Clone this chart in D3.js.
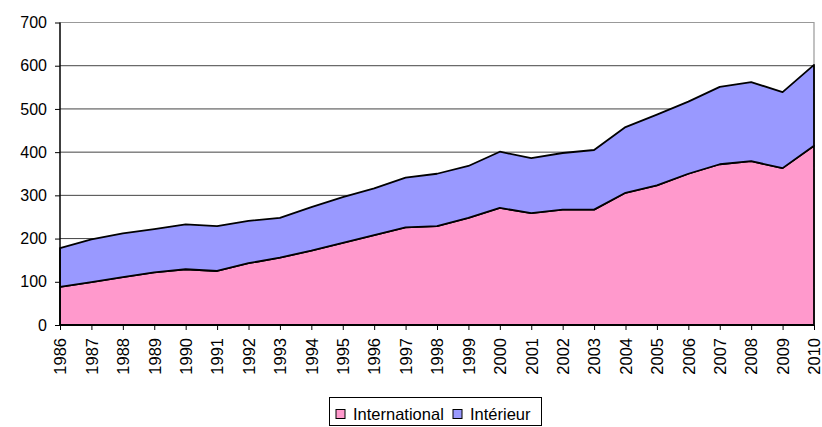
<!DOCTYPE html>
<html>
<head>
<meta charset="utf-8">
<script src="https://cdn.jsdelivr.net/npm/d3@7"></script>
<style>
body { margin: 0; background: #fff; }
text { font-family: Arial, "Liberation Sans", sans-serif; }
</style>
</head>
<body>
<div id="chart"></div>
<script>
var width = 822,
    height = 427;

var years = [1986,1987,1988,1989,1990,1991,1992,1993,1994,1995,1996,1997,1998,1999,2000,2001,2002,2003,2004,2005,2006,2007,2008,2009,2010];
var international = [88,99,111,122,129,125,143,156,172,190,208,226,229,248,271,259,267,267,306,323,350,372,379,363,415];
var interieur = [90,99,101,100,104,104,98,92,101,106,108,115,121,120,130,127,131,138,152,164,167,179,183,176,187];
var yTicks = [0,100,200,300,400,500,600,700];
var seriesNames = ["International", "Intérieur"];
var colors = ["#ff99cc", "#9999ff"];

var margin = {left: 60, right: 8, top: 22.5, bottom: 102};

var svg = d3.select("#chart")
            .append("svg")
            .attr("width", width)
            .attr("height", height);

var x = d3.scaleLinear()
          .domain([years[0], years[years.length - 1]])
          .range([margin.left, width - margin.right]);
var y = d3.scaleLinear()
          .domain([0, 700])
          .range([height - margin.bottom, margin.top]);

var rows = years.map(function(yr, i){
    return {year: yr, International: international[i], "Intérieur": interieur[i]};
});
var stacked = d3.stack().keys(seriesNames)(rows);

// gridlines
svg.selectAll(".grid")
   .data(yTicks.filter(function(d){ return d > 0 && d < 700; }))
   .enter().append("line")
   .attr("x1", margin.left).attr("x2", width - margin.right)
   .attr("y1", function(d){ return y(d); })
   .attr("y2", function(d){ return y(d); })
   .attr("stroke", "#444")
   .attr("stroke-width", 1);

// plot border (grey top + right)
svg.append("path")
   .attr("d", "M" + margin.left + "," + y(700) + "H" + (width - margin.right) + "V" + y(0))
   .attr("fill", "none")
   .attr("stroke", "#999")
   .attr("stroke-width", 1.2);

var area = d3.area()
    .x(function(d){ return x(d.data.year); })
    .y0(function(d){ return y(d[0]); })
    .y1(function(d){ return y(d[1]); });

svg.selectAll(".layer")
   .data(stacked)
   .enter().append("path")
   .attr("class", "layer")
   .attr("d", area)
   .attr("fill", function(d, i){ return colors[i]; })
   .attr("stroke", "#000")
   .attr("stroke-width", 1.8)
   .attr("stroke-linejoin", "round");

// y axis
var yAxis = svg.append("g")
   .attr("transform", "translate(" + margin.left + ",0)")
   .call(d3.axisLeft(y).tickValues(yTicks).tickSize(5).tickPadding(8));
yAxis.selectAll("text").attr("font-size", 16).attr("fill", "#000").attr("font-family", "Arial, 'Liberation Sans', sans-serif");
yAxis.selectAll("line,path").attr("stroke", "#000");
yAxis.select(".domain").attr("stroke-width", 1.5).attr("d", "M0," + y(0) + "V" + y(700));

// x axis
var xAxis = svg.append("g")
   .attr("transform", "translate(0," + y(0) + ")")
   .call(d3.axisBottom(x).tickValues(years).tickFormat(d3.format("d")).tickSize(5));
xAxis.selectAll("line,path").attr("stroke", "#000");
xAxis.select(".domain").attr("stroke-width", 1.5).attr("d", "M" + margin.left + ",0H" + (width - margin.right));
xAxis.selectAll("text")
   .attr("font-size", 16.5)
   .attr("fill", "#000")
   .attr("font-family", "Arial, 'Liberation Sans', sans-serif")
   .attr("text-anchor", "end")
   .attr("transform", "rotate(-90)")
   .attr("x", -13)
   .attr("y", 0)
   .attr("dy", "0.35em");

// legend
var legend = svg.append("g");
legend.append("rect")
   .attr("x", 329.5).attr("y", 397.5)
   .attr("width", 212).attr("height", 28)
   .attr("fill", "#fff").attr("stroke", "#000");
var legendX = [336, 453];
seriesNames.forEach(function(name, i){
    legend.append("rect")
       .attr("x", legendX[i]).attr("y", 409.5)
       .attr("width", 9).attr("height", 9)
       .attr("fill", colors[i]).attr("stroke", "#000");
    legend.append("text")
       .attr("x", legendX[i] + 17).attr("y", 420)
       .attr("font-size", 16.5)
       .text(name);
});
</script>
</body>
</html>
